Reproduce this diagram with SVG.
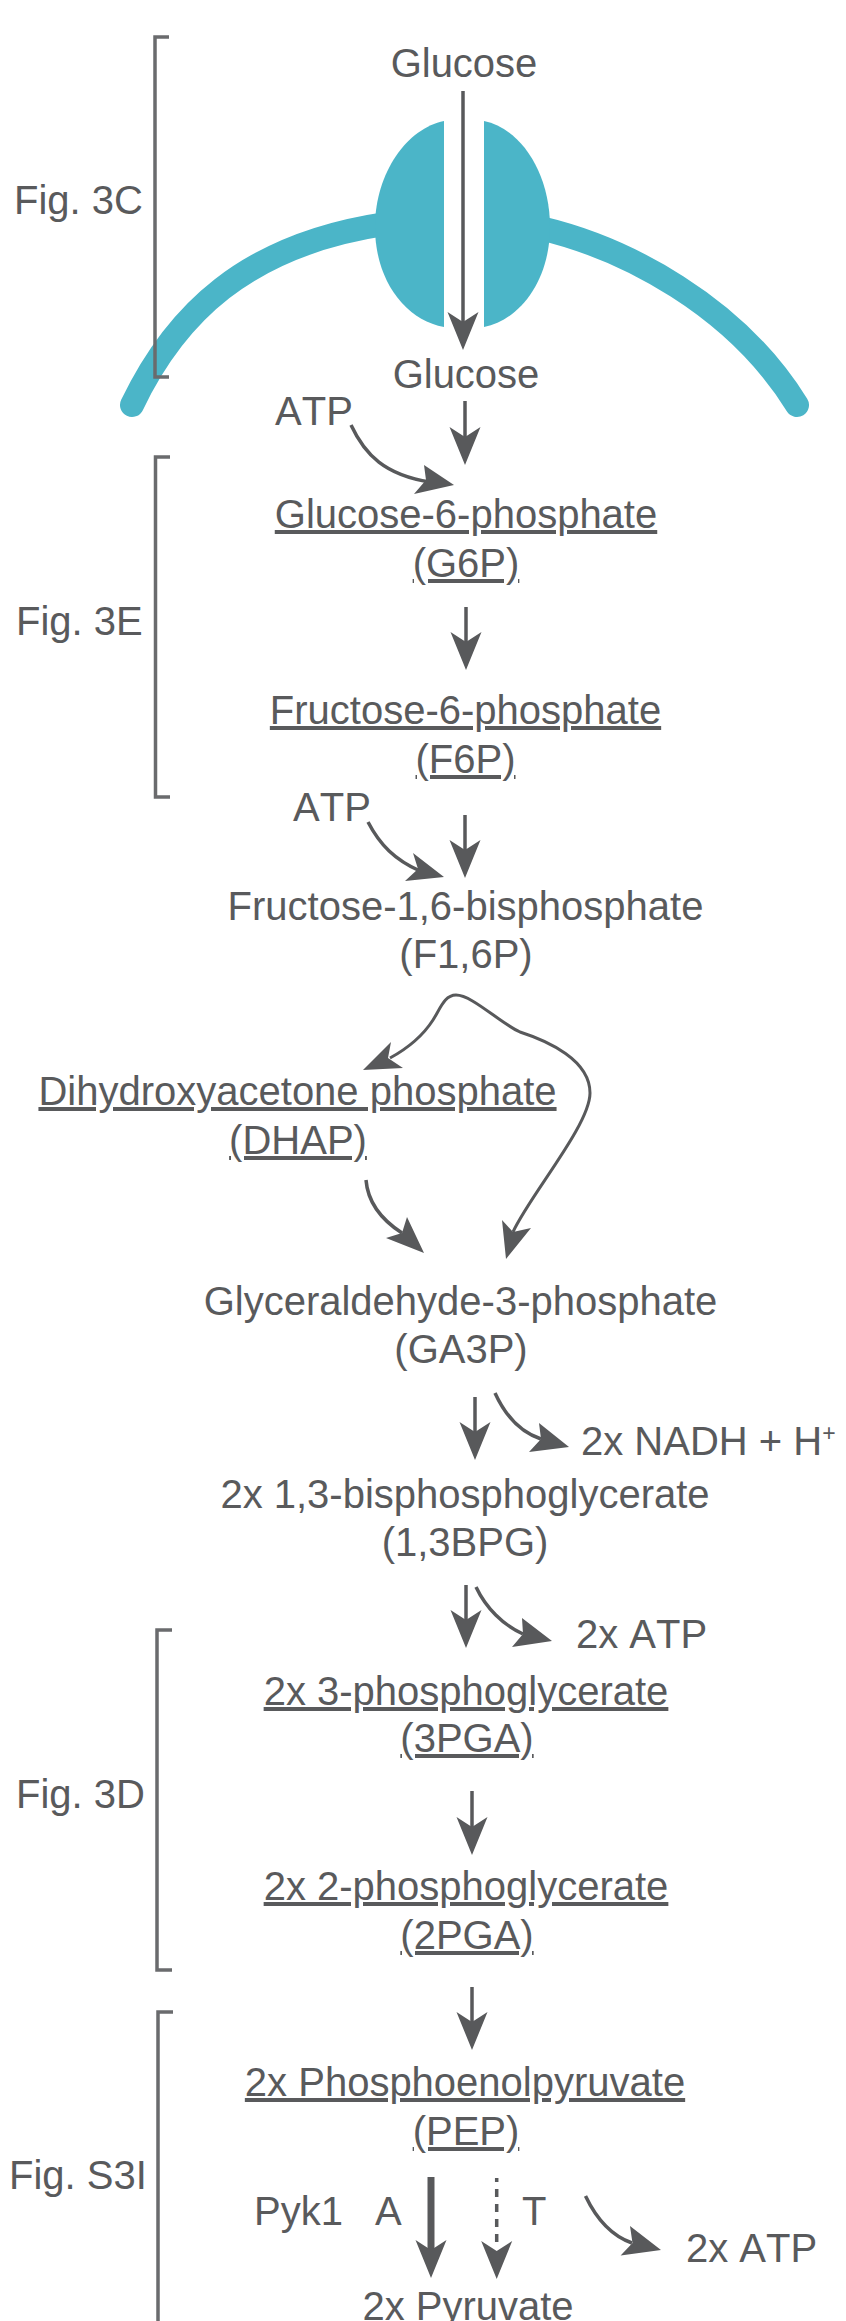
<svg xmlns="http://www.w3.org/2000/svg" width="846" height="2321" viewBox="0 0 846 2321">
<style>
text{font-family:"Liberation Sans",Arial,sans-serif;font-size:40px;font-kerning:none;fill:#595a5c;text-anchor:middle}
.s{text-anchor:start}
.u{text-decoration:underline}
.line{fill:none;stroke:#58595b;stroke-width:3.5}
.cur{fill:none;stroke:#58595b;stroke-width:3.5}
.head{fill:#58595b}
.br{fill:none;stroke:#6a6b6d;stroke-width:3.5}
.mem{fill:none;stroke:#4bb5c8;stroke-width:24;stroke-linecap:round}
.tp{fill:#4bb5c8}
</style>
<defs>
<polygon id="h" class="head" points="0,0 -15.500,-38 0,-28 15.500,-38"/>
</defs>
<rect width="846" height="2321" fill="#fff"/>
<g id="membrane">
<path class="mem" d="M132 405 C175 315 245 245 385 224"/>
<path class="mem" d="M540 228 C625 248 735 305 797 405"/>
<path class="tp" d="M444 121 C408 128 375 172 375 227 C375 280 405 320 444 327 Z"/>
<path class="tp" d="M484 121 C520 128 550 172 550 227 C550 280 520 320 484 327 Z"/>
</g>
<g id="connectors">
<path class="line" d="M463 91V330"/><use href="#h" x="463" y="350"/>
<path class="line" d="M465 401V445"/><use href="#h" x="465" y="465"/>
<path class="cur" d="M351 425 C365 455 385 475 430 482"/><polygon class="head" points="454,485 414,494 426,480 424,465"/>
<path class="line" d="M466 607V650"/><use href="#h" x="466" y="670"/>
<path class="line" d="M465 815V858"/><use href="#h" x="465" y="878"/>
<path class="cur" d="M368 822 C380 845 395 860 420 871"/><polygon class="head" points="444,877 405,881 418,869 413,853"/>
<path class="cur" style="stroke-width:3" d="M390 1058 C412 1046 424 1034 433 1020 C441 1007 445 995 456 995 C472 995 500 1023 520 1032 C548 1041 590 1060 590 1093 C590 1125 530 1195 513 1232"/>
<polygon class="head" points="363,1070 391,1042 388,1058 403,1068"/>
<polygon class="head" points="506,1259 502,1220 513,1232 531,1228"/>
<path class="cur" d="M366 1180 C368 1205 385 1222 402 1233"/><polygon class="head" points="424,1253 386,1238 402,1233 407,1217"/>
<path class="line" d="M475 1397V1440"/><use href="#h" x="475" y="1460"/>
<path class="cur" d="M495 1393 C505 1415 520 1432 541 1439"/><polygon class="head" points="569,1447 529,1452 541,1439 539,1423"/>
<path class="line" d="M466 1585V1628"/><use href="#h" x="466" y="1648"/>
<path class="cur" d="M476 1587 C486 1608 503 1625 523 1634"/><polygon class="head" points="552,1641 512,1647 523,1634 522,1618"/>
<path class="line" d="M472 1791V1835"/><use href="#h" x="472" y="1855"/>
<path class="line" d="M472 1987V2030"/><use href="#h" x="472" y="2050"/>
<path class="line" style="stroke-width:7" d="M431 2177V2255"/><use href="#h" x="431" y="2278"/>
<path class="line" style="stroke-dasharray:4 7 8 7 8 7 8 7 8 7 8 40" d="M496.700 2178V2243"/><use href="#h" x="496.700" y="2279"/>
<path class="cur" d="M585.500 2196 C596 2218 612 2236 632 2243"/><polygon class="head" points="661,2250 620.600,2255.500 632.500,2243 630,2226"/>
</g>
<g id="brackets">
<path id="br3C" class="br" d="M169 37H155V377H169"/>
<path id="br3E" class="br" d="M170 457H155.500V797H170"/>
<path id="br3D" class="br" d="M172 1630H157V1970H172"/>
<path id="brS3I" class="br" d="M173 2012H158V2325"/>
</g>
<g id="labels">
<text class="s" x="14" y="214">Fig. 3C</text>
<text class="s" x="16" y="635">Fig. 3E</text>
<text class="s" x="16" y="1808">Fig. 3D</text>
<text class="s" x="9" y="2189">Fig. S3I</text>
</g>
<g id="glucose-out"><text x="464" y="77">Glucose</text></g>
<g id="glucose-in"><text x="466" y="388">Glucose</text></g>
<g id="atp1"><text x="314" y="425">ATP</text></g>
<g id="g6p"><text class="u" x="466" y="528">Glucose-6-phosphate</text><text class="u" x="466" y="577">(G6P)</text></g>
<g id="f6p"><text class="u" x="465.500" y="724">Fructose-6-phosphate</text><text class="u" x="465.500" y="773">(F6P)</text></g>
<g id="atp2"><text x="332" y="821">ATP</text></g>
<g id="f16p"><text x="465.500" y="920">Fructose-1,6-bisphosphate</text><text x="466" y="968">(F1,6P)</text></g>
<g id="dhap"><text class="u" x="297.500" y="1105">Dihydroxyacetone phosphate</text><text class="u" x="298" y="1154">(DHAP)</text></g>
<g id="ga3p"><text x="460.500" y="1315">Glyceraldehyde-3-phosphate</text><text x="461" y="1363">(GA3P)</text></g>
<g id="nadh"><text class="s" x="581" y="1455">2x NADH + H<tspan dy="-14" style="font-size:23px">+</tspan></text></g>
<g id="bpg"><text x="465" y="1508">2x 1,3-bisphosphoglycerate</text><text x="465" y="1556">(1,3BPG)</text></g>
<g id="atp3"><text class="s" x="576" y="1648">2x ATP</text></g>
<g id="pga3"><text class="u" x="466" y="1705">2x 3-phosphoglycerate</text><text class="u" x="467" y="1752">(3PGA)</text></g>
<g id="pga2"><text class="u" x="466" y="1900">2x 2-phosphoglycerate</text><text class="u" x="467" y="1949">(2PGA)</text></g>
<g id="pep"><text class="u" x="465" y="2096">2x Phosphoenolpyruvate</text><text class="u" x="466" y="2145">(PEP)</text></g>
<g id="pyk1"><text class="s" x="254" y="2225">Pyk1</text><text class="s" x="375" y="2225">A</text><text class="s" x="522" y="2225">T</text></g>
<g id="atp4"><text class="s" x="686" y="2262">2x ATP</text></g>
<g id="pyruvate"><text x="468" y="2320">2x Pyruvate</text></g>
</svg>
